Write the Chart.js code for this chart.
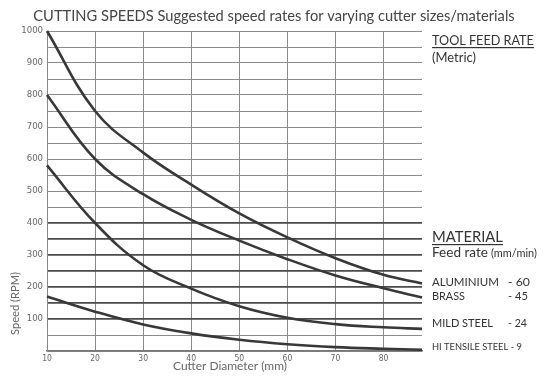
<!DOCTYPE html>
<html><head><meta charset="utf-8">
<script src="https://cdn.jsdelivr.net/npm/chart.js@4"></script>
<style>html,body{margin:0;padding:0;background:#fff}#wrap{width:550px;height:380px;position:relative}</style>
</head><body><div id="wrap"><canvas id="c" width="550" height="380"></canvas></div>
<script>
// ---- data ----
const diameters = [10, 20, 30, 40, 50, 60, 70, 80, 88];
const curveTop = [1000, 750, 620, 520, 430, 355, 290, 238, 211];
const curveSecond = [800, 600, 490, 410, 345, 287, 236, 196, 167];
const curveThird = [580, 400, 268, 195, 140, 104, 84, 74, 69];
const curveBottom = [170, 123, 83, 55, 35, 21, 12, 7, 4];
const yTickLabels = [100, 200, 300, 400, 500, 600, 700, 800, 900, 1000];
const xTickLabels = [10, 20, 30, 40, 50, 60, 70, 80];
const titleText = 'CUTTING SPEEDS Suggested speed rates for varying cutter sizes/materials';
const xTitle = 'Cutter Diameter (mm)';
const yTitle = 'Speed (RPM)';
const materials = ['ALUMINIUM', 'BRASS', 'MILD STEEL'];
const feedRates = ['- 60', '- 45', '- 24'];

const FAM = "Lato, 'Open Sans', sans-serif";
const NARROW = "'Liberation Sans Narrow', 'DejaVu Sans Condensed', sans-serif";

function fitSize(ctx, text, family, weight, targetW) {
  ctx.font = `${weight} 20px ${family}`;
  return 20 * targetW / ctx.measureText(text).width;
}
function put(ctx, text, x, y, w, opts = {}) {
  const fam = opts.family || FAM, wt = opts.weight || 'normal';
  const size = fitSize(ctx, text, fam, wt, w);
  ctx.font = `${wt} ${size}px ${fam}`;
  ctx.fillStyle = opts.color || '#3c3c3c';
  ctx.textAlign = opts.align || 'left';
  ctx.textBaseline = 'alphabetic';
  ctx.fillText(text, x, y);
  if (opts.underline) {
    ctx.fillRect(x, y + 2, w, 1.2);
  }
}

const textPlugin = {
  id: 'textPlugin',
  afterDraw(chart) {
    const ctx = chart.ctx;
    ctx.save();
    put(ctx, titleText, 274, 21, 482, {align: 'center', color: '#444'});
    put(ctx, xTitle, 230, 370, 114, {align: 'center', color: '#666'});
    ctx.save();
    ctx.translate(19, 303.5);
    ctx.rotate(-Math.PI / 2);
    put(ctx, yTitle, 0, 0, 63, {align: 'center', color: '#666'});
    ctx.restore();
    put(ctx, 'TOOL FEED RATE', 432, 45, 102, {underline: true, color: '#333'});
    put(ctx, '(Metric)', 432, 62, 44, {color: '#333'});
    put(ctx, 'MATERIAL', 432, 242, 71, {underline: true, color: '#333'});
    put(ctx, 'Feed rate', 432, 257, 56, {color: '#333'});
    put(ctx, '(mm/min)', 491, 257, 46, {color: '#333'});
    const base = [286, 300, 327];
    const widths = [67, 33, 61];
    const fw = [22, 20, 19];
    materials.forEach((m, i) => {
      put(ctx, m, 432, base[i], widths[i], {color: '#333'});
      put(ctx, feedRates[i], 508, base[i], fw[i], {color: '#333'});
    });
    put(ctx, 'HI TENSILE STEEL - 9', 432, 350, 90, {color: '#333'});
    ctx.restore();
  }
};

const lineStyle = {borderColor: '#383838', borderWidth: 2.6, pointRadius: 0, fill: false, tension: 0.4, clip: false};

new Chart(document.getElementById('c'), {
  type: 'line',
  data: {
    datasets: [
      {label: 'A', data: diameters.map((d, i) => ({x: d, y: curveTop[i]})), ...lineStyle},
      {label: 'B', data: diameters.map((d, i) => ({x: d, y: curveSecond[i]})), ...lineStyle},
      {label: 'C', data: diameters.map((d, i) => ({x: d, y: curveThird[i]})), ...lineStyle},
      {label: 'D', data: diameters.map((d, i) => ({x: d, y: curveBottom[i]})), ...lineStyle}
    ]
  },
  options: {
    responsive: false,
    animation: false,
    devicePixelRatio: 1,
    layout: {padding: {top: 31, right: 128, left: 0, bottom: 0}},
    plugins: {legend: {display: false}, title: {display: false}, tooltip: {enabled: false}},
    scales: {
      x: {
        type: 'linear', min: 10, max: 88,
        afterFit: s => { s.height = 29; },
        border: {display: true, color: '#777', width: 1.5},
        grid: {color: '#8a8a8a', lineWidth: 1, drawTicks: false},
        ticks: {
          stepSize: 10, includeBounds: false, autoSkip: false, maxRotation: 0, padding: 3,
          color: '#666', font: {family: NARROW, size: 8.5},
          callback: v => xTickLabels.includes(v) ? String(v) : ''
        }
      },
      y: {
        min: 0, max: 1000,
        afterFit: s => { s.width = 47; },
        border: {display: true, color: '#888', width: 1},
        grid: {
          drawTicks: false,
          color: c => (c.tick && c.tick.value >= 100 && c.tick.value <= 400) ? '#4a4a4a' : '#8a8a8a',
          lineWidth: c => (c.tick && c.tick.value >= 100 && c.tick.value <= 400) ? 1.8 : 1
        },
        ticks: {
          stepSize: 50, autoSkip: false, padding: 4,
          color: '#666', font: {family: NARROW, size: 9.5},
          callback: v => yTickLabels.includes(v) ? String(v) : ''
        }
      }
    }
  },
  plugins: [textPlugin]
});
</script></body></html>
